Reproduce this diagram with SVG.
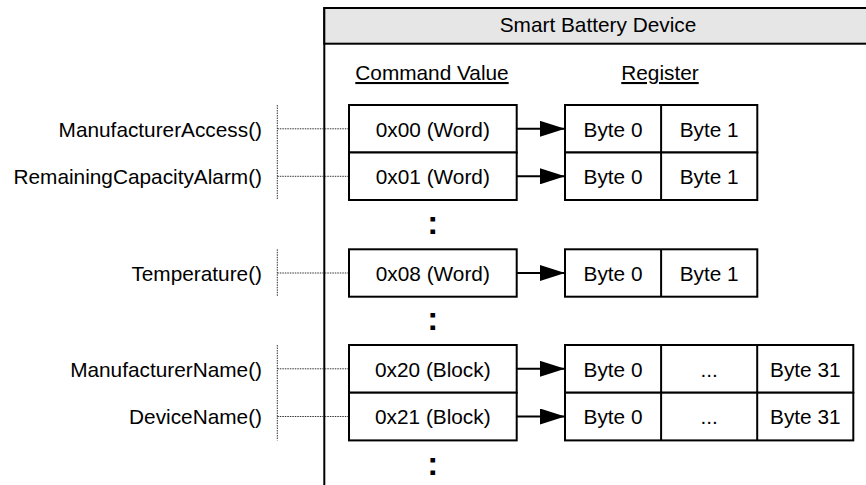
<svg xmlns="http://www.w3.org/2000/svg" width="866" height="485" viewBox="0 0 866 485">
  <defs>
    <marker id="arrow" markerUnits="userSpaceOnUse" markerWidth="26" markerHeight="16" refX="25" refY="8" orient="auto">
      <path d="M0,0 L25,8 L0,16 Z" fill="#000"/>
    </marker>
    <style>
      text { font-family: "Liberation Sans", Arial, sans-serif; font-size: 20.8px; fill: #000; }
      .mid { text-anchor: middle; }
      .end { text-anchor: end; }
      .box { fill: #fff; stroke: #000; stroke-width: 2; }
      .div { stroke: #000; stroke-width: 2; fill: none; }
      .dash { stroke: #333; stroke-width: 1; stroke-dasharray: 1.5 1; fill: none; }
      .arr { stroke: #000; stroke-width: 2; fill: none; marker-end: url(#arrow); }
      .dots { font-weight: bold; font-size: 33px; text-anchor: middle; }
      .ul { text-decoration: underline; }
    </style>
  </defs>

  <g id="device">
    <path class="div" d="M324.3,485 L324.3,8 L870,8"/>
    <rect x="324.3" y="8" width="560" height="35.7" fill="#e6e6e6" stroke="#000" stroke-width="2"/>
    <text class="mid" x="598" y="32">Smart Battery Device</text>
    <text class="mid ul" x="432" y="80">Command Value</text>
    <text class="mid ul" x="660" y="80">Register</text>
  </g>

  <g id="labels">
    <text class="end" x="262" y="136.5">ManufacturerAccess()</text>
    <text class="end" x="262" y="184">RemainingCapacityAlarm()</text>
    <text class="end" x="262" y="280.7">Temperature()</text>
    <text class="end" x="262" y="376.6">ManufacturerName()</text>
    <text class="end" x="262" y="424.3">DeviceName()</text>
  </g>

  <g id="connectors">
    <path class="dash" d="M277.3,105 V200 M277.3,128.8 H349 M277.3,176.3 H349"/>
    <path class="dash" d="M277.3,249.3 V296.7 M277.3,273 H349"/>
    <path class="dash" d="M277.3,345 V440.4 M277.3,368.8 H349 M277.3,416.5 H349"/>
    <line class="arr" x1="516.7" y1="128.8" x2="565" y2="128.8"/>
    <line class="arr" x1="516.7" y1="176.3" x2="565" y2="176.3"/>
    <line class="arr" x1="516.7" y1="273" x2="565" y2="273"/>
    <line class="arr" x1="516.7" y1="368.8" x2="565" y2="368.8"/>
    <line class="arr" x1="516.7" y1="416.5" x2="565" y2="416.5"/>
  </g>

  <g id="cmd-0x00">
    <rect class="box" x="349" y="105" width="167.7" height="47.5"/>
    <text class="mid" x="432.8" y="136.5">0x00 (Word)</text>
  </g>
  <g id="cmd-0x01">
    <rect class="box" x="349" y="152.5" width="167.7" height="47.5"/>
    <text class="mid" x="432.8" y="184">0x01 (Word)</text>
  </g>
  <g id="cmd-0x08">
    <rect class="box" x="349" y="249.3" width="167.7" height="47.4"/>
    <text class="mid" x="432.8" y="280.7">0x08 (Word)</text>
  </g>
  <g id="cmd-0x20">
    <rect class="box" x="349" y="345" width="167.7" height="47.7"/>
    <text class="mid" x="432.8" y="376.6">0x20 (Block)</text>
  </g>
  <g id="cmd-0x21">
    <rect class="box" x="349" y="392.7" width="167.7" height="47.7"/>
    <text class="mid" x="432.8" y="424.3">0x21 (Block)</text>
  </g>

  <g id="reg-0x00">
    <rect class="box" x="565" y="105" width="192.3" height="47.5"/>
    <line class="div" x1="661.1" y1="105" x2="661.1" y2="152.5"/>
    <text class="mid" x="613" y="136.5">Byte 0</text>
    <text class="mid" x="709.2" y="136.5">Byte 1</text>
  </g>
  <g id="reg-0x01">
    <rect class="box" x="565" y="152.5" width="192.3" height="47.5"/>
    <line class="div" x1="661.1" y1="152.5" x2="661.1" y2="200"/>
    <text class="mid" x="613" y="184">Byte 0</text>
    <text class="mid" x="709.2" y="184">Byte 1</text>
  </g>
  <g id="reg-0x08">
    <rect class="box" x="565" y="249.3" width="192.3" height="47.4"/>
    <line class="div" x1="661.1" y1="249.3" x2="661.1" y2="296.7"/>
    <text class="mid" x="613" y="280.7">Byte 0</text>
    <text class="mid" x="709.2" y="280.7">Byte 1</text>
  </g>
  <g id="reg-0x20">
    <rect class="box" x="565" y="345" width="288.3" height="47.7"/>
    <line class="div" x1="661.1" y1="345" x2="661.1" y2="392.7"/>
    <line class="div" x1="757.2" y1="345" x2="757.2" y2="392.7"/>
    <text class="mid" x="613" y="376.6">Byte 0</text>
    <text class="mid" x="709.2" y="376.6">...</text>
    <text class="mid" x="805.3" y="376.6">Byte 31</text>
  </g>
  <g id="reg-0x21">
    <rect class="box" x="565" y="392.7" width="288.3" height="47.7"/>
    <line class="div" x1="661.1" y1="392.7" x2="661.1" y2="440.4"/>
    <line class="div" x1="757.2" y1="392.7" x2="757.2" y2="440.4"/>
    <text class="mid" x="613" y="424.3">Byte 0</text>
    <text class="mid" x="709.2" y="424.3">...</text>
    <text class="mid" x="805.3" y="424.3">Byte 31</text>
  </g>

  <g id="ellipses">
    <text class="dots" x="432.7" y="234">:</text>
    <text class="dots" x="432.7" y="330">:</text>
    <text class="dots" x="432.7" y="475">:</text>
  </g>
</svg>
